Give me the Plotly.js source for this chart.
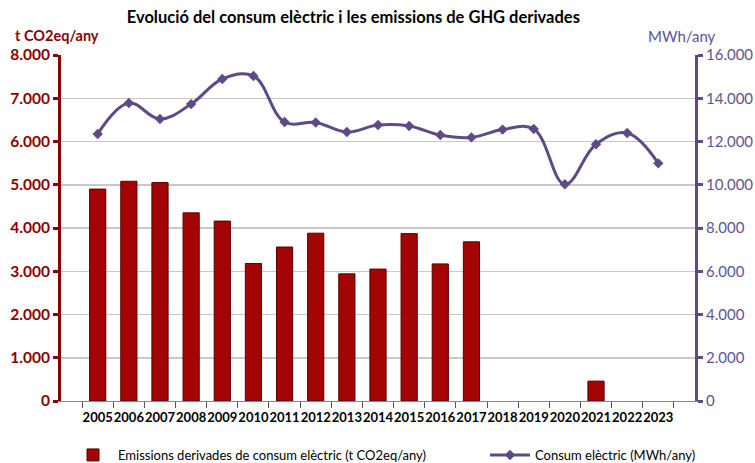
<!DOCTYPE html>
<html><head><meta charset="utf-8">
<script src="https://cdn.plot.ly/plotly-3.0.1.min.js"></script>
<style>html,body{margin:0;padding:0;background:#fff}#c{width:755px;height:463px}</style>
</head><body><div id="c"></div>
<script>
const years = ['2005','2006','2007','2008','2009','2010','2011','2012','2013','2014','2015','2016','2017','2018','2019','2020','2021','2022','2023'];
const emissions = [4900,5080,5050,4350,4160,3180,3560,3880,2940,3050,3870,3170,3680,null,null,null,460,null,null];
const consum = [12350,13780,13040,13730,14890,15030,12900,12880,12440,12760,12720,12300,12190,12550,12580,10020,11870,12390,10990];
const leftTicks = [0,1000,2000,3000,4000,5000,6000,7000,8000];
const rightTicks = [0,2000,4000,6000,8000,10000,12000,14000,16000];

const F = 'Lato, "Open Sans", sans-serif';
const red = '#8B0000', purple = '#5E4A86';

const traces = [
  {type:'bar', x:years, y:emissions, name:'Emissions derivades de consum elèctric (t CO2eq/any)',
   marker:{color:'#A30505', line:{color:'#5A0000', width:1}}, yaxis:'y', legend:'legend'},
  {type:'scatter', mode:'lines+markers', x:years, y:consum, name:'Consum elèctric (MWh/any)',
   line:{color:purple, width:3, shape:'spline', smoothing:1.1},
   marker:{symbol:'diamond', size:8, color:purple}, yaxis:'y2', legend:'legend2'}
];

const legFont = {family:F, size:13, color:'#000'};
const layout = {
  width:755, height:463,
  margin:{l:61, r:60, t:55, b:62},
  separators:',.',
  paper_bgcolor:'#fff', plot_bgcolor:'#fff',
  font:{family:F, size:13, color:'#000'},
  title:{text:'<b>Evolució del consum elèctric i les emissions de GHG derivades</b>', xref:'container', x:0.468, xanchor:'center', yref:'container', y:0.963, yanchor:'middle', font:{family:F, size:16.5, color:'#000'}},
  bargap:0.48,
  showlegend:true,
  legend:{orientation:'h', xref:'container', yref:'container', x:68/755, xanchor:'left', y:8/463, yanchor:'middle',
          font:legFont, itemwidth:40, bgcolor:'rgba(0,0,0,0)'},
  legend2:{orientation:'h', xref:'container', yref:'container', x:485/755, xanchor:'left', y:8/463, yanchor:'middle',
          font:legFont, itemwidth:40, bgcolor:'rgba(0,0,0,0)'},
  xaxis:{type:'category', tickangle:0, automargin:false, ticklabelstandoff:4, tickfont:{family:F, size:13, color:'#000', weight:'bold'},
         ticks:'outside', tickson:'boundaries', ticklen:6, tickcolor:'#555', showline:true, linecolor:'#888', linewidth:1,
         showgrid:false},
  yaxis:{range:[0,8000], tickvals:leftTicks, tickformat:',d', showgrid:true, gridcolor:'#c8c8c8', gridwidth:1.5, automargin:false,
         showline:true, linecolor:red, linewidth:3, ticks:'outside', ticklen:5, tickwidth:3, tickcolor:red,
         tickfont:{family:F, size:15.5, color:red, weight:'bold'}, zeroline:false},
  yaxis2:{range:[0,16000], tickvals:rightTicks, tickformat:',d', overlaying:'y', side:'right', showgrid:false, automargin:false,
          showline:true, linecolor:purple, linewidth:3, ticks:'outside', ticklen:5, tickwidth:3, tickcolor:purple,
          tickfont:{family:F, size:15, color:'#5E5394'}, zeroline:false},
  annotations:[
    {text:'<b>t CO2eq/any</b>', xref:'paper', yref:'paper', x:-0.076, y:1.056, xanchor:'left', yanchor:'middle', showarrow:false,
     font:{family:F, size:14.5, color:red}},
    {text:'MWh/any', xref:'paper', yref:'paper', x:0.98, y:1.056, xanchor:'center', yanchor:'middle', showarrow:false,
     font:{family:F, size:15, color:'#5E5394'}}
  ]
};
Plotly.newPlot('c', traces, layout, {displayModeBar:false, staticPlot:true});
</script></body></html>
